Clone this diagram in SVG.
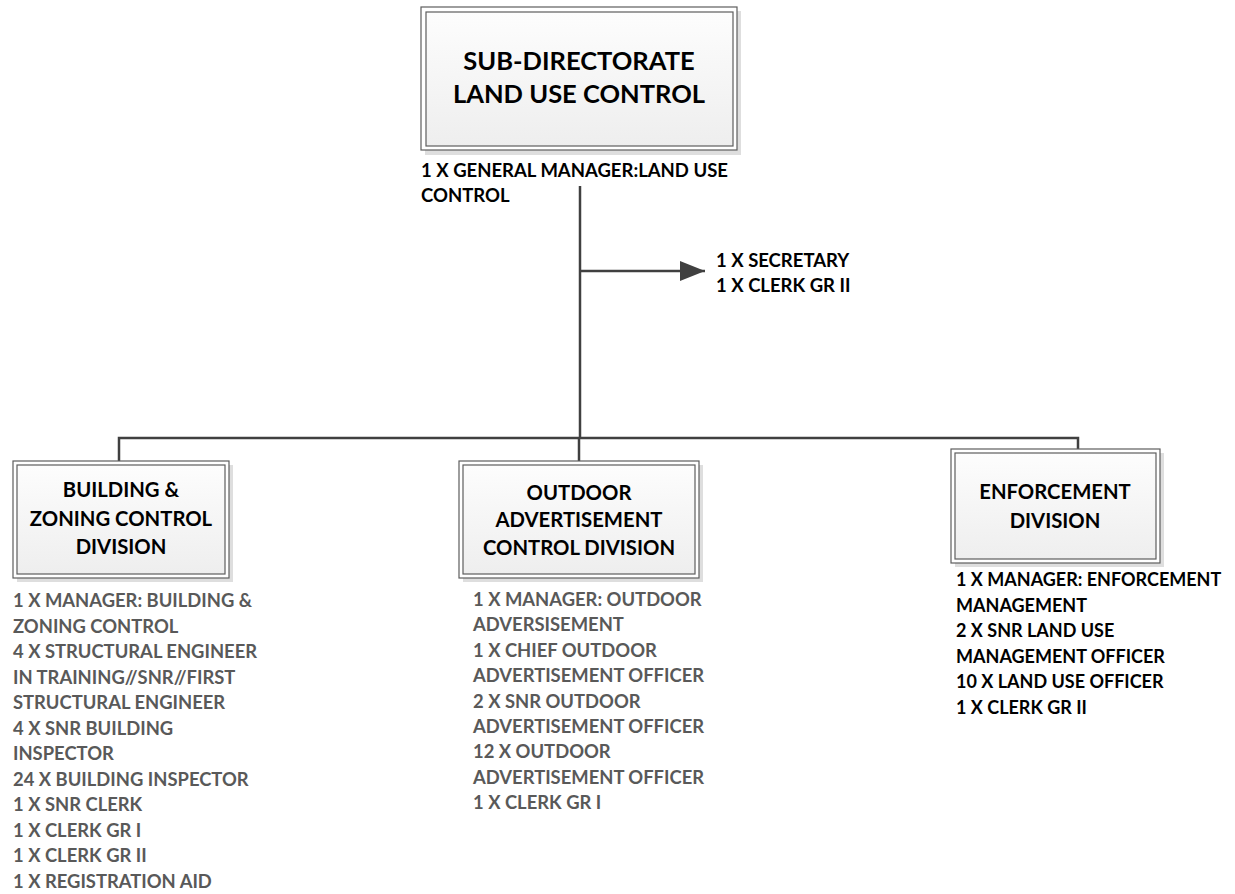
<svg xmlns="http://www.w3.org/2000/svg" width="1235" height="894" viewBox="0 0 1235 894">
<defs>
<linearGradient id="boxfill" x1="0" y1="0" x2="0" y2="1">
<stop offset="0" stop-color="#fdfdfd"/>
<stop offset="1" stop-color="#eeeeee"/>
</linearGradient>
<marker id="arrow" markerWidth="26" markerHeight="20" refX="25" refY="10" orient="auto" markerUnits="userSpaceOnUse">
<path d="M0,0 L25,10 L0,20 Z" fill="#404040"/>
</marker>
</defs>
<style>
text{font-family:Lato,"Open Sans","Liberation Sans",sans-serif;font-weight:bold;}
.shadow{fill:#dedede;}
.outer{fill:#ffffff;stroke:#5e5e5e;stroke-width:1.2;}
.inner{fill:url(#boxfill);stroke:#5e5e5e;stroke-width:1.2;}
.title{font-size:25.5px;fill:#000;text-anchor:middle;}
.head{font-size:20.3px;fill:#000;text-anchor:middle;}
.lbl{font-size:18.5px;fill:#000;}
.lbl2{font-size:18px;fill:#000;}
.gray{font-size:18.4px;fill:#595959;}
.conn{stroke:#404040;stroke-width:2.5;fill:none;}
</style>
<rect width="1235" height="894" fill="#ffffff"/>
<g id="connectors">
<line class="conn" x1="580" y1="186" x2="580" y2="439"/>
<line class="conn" x1="580" y1="271" x2="705" y2="271" marker-end="url(#arrow)"/>
<polyline class="conn" points="119,461 119,438 1078,438 1078,449"/>
<line class="conn" x1="579" y1="438" x2="579" y2="461"/>
</g>
<g id="node-sub-directorate">
<rect class="shadow" x="425" y="11" width="316" height="144"/>
<rect class="outer" x="421" y="7" width="316" height="143"/>
<rect class="inner" x="426" y="12" width="307" height="134"/>
<text class="title" x="579" y="70">SUB-DIRECTORATE</text>
<text class="title" x="579" y="103">LAND USE CONTROL</text>
</g>
<g id="label-general-manager">
<text class="lbl" x="421" y="177">1 X GENERAL MANAGER:LAND USE</text>
<text class="lbl" x="421" y="202">CONTROL</text>
</g>
<g id="label-secretary">
<text class="lbl" x="716" y="267">1 X SECRETARY</text>
<text class="lbl" x="716" y="292">1 X CLERK GR II</text>
</g>
<g id="node-building">
<rect class="shadow" x="17" y="465" width="216" height="117"/>
<rect class="outer" x="13" y="461" width="216" height="117"/>
<rect class="inner" x="17" y="465" width="208" height="109"/>
<text class="head" x="121" y="497">BUILDING &amp;</text>
<text class="head" x="121" y="526">ZONING CONTROL</text>
<text class="head" x="121" y="554">DIVISION</text>
</g>
<g id="list-building">
<text class="gray" x="13" y="607">1 X MANAGER: BUILDING &amp;</text>
<text class="gray" x="13" y="632.5">ZONING CONTROL</text>
<text class="gray" x="13" y="658">4 X STRUCTURAL ENGINEER</text>
<text class="gray" x="13" y="683.5">IN TRAINING//SNR//FIRST</text>
<text class="gray" x="13" y="709">STRUCTURAL ENGINEER</text>
<text class="gray" x="13" y="734.5">4 X SNR BUILDING</text>
<text class="gray" x="13" y="760">INSPECTOR</text>
<text class="gray" x="13" y="785.5">24 X BUILDING INSPECTOR</text>
<text class="gray" x="13" y="811">1 X SNR CLERK</text>
<text class="gray" x="13" y="836.5">1 X CLERK GR I</text>
<text class="gray" x="13" y="862">1 X CLERK GR II</text>
<text class="gray" x="13" y="887.5">1 X REGISTRATION AID</text>
</g>
<g id="node-outdoor">
<rect class="shadow" x="463" y="465" width="240" height="117"/>
<rect class="outer" x="459" y="461" width="240" height="117"/>
<rect class="inner" x="463" y="465" width="232" height="109"/>
<text class="head" x="579" y="500">OUTDOOR</text>
<text class="head" x="579" y="527">ADVERTISEMENT</text>
<text class="head" x="579" y="555">CONTROL DIVISION</text>
</g>
<g id="list-outdoor">
<text class="gray" x="473" y="606">1 X MANAGER: OUTDOOR</text>
<text class="gray" x="473" y="631.4">ADVERSISEMENT</text>
<text class="gray" x="473" y="656.8">1 X CHIEF OUTDOOR</text>
<text class="gray" x="473" y="682.2">ADVERTISEMENT OFFICER</text>
<text class="gray" x="473" y="707.6">2 X SNR OUTDOOR</text>
<text class="gray" x="473" y="733">ADVERTISEMENT OFFICER</text>
<text class="gray" x="473" y="758.4">12 X OUTDOOR</text>
<text class="gray" x="473" y="783.8">ADVERTISEMENT OFFICER</text>
<text class="gray" x="473" y="809.2">1 X CLERK GR I</text>
</g>
<g id="node-enforcement">
<rect class="shadow" x="955" y="453" width="209" height="114"/>
<rect class="outer" x="951" y="449" width="209" height="114"/>
<rect class="inner" x="955" y="453" width="201" height="106"/>
<text class="head" x="1055" y="499">ENFORCEMENT</text>
<text class="head" x="1055" y="528">DIVISION</text>
</g>
<g id="list-enforcement">
<text class="lbl2" x="956" y="586">1 X MANAGER: ENFORCEMENT</text>
<text class="lbl2" x="956" y="611.5">MANAGEMENT</text>
<text class="lbl2" x="956" y="637">2 X SNR LAND USE</text>
<text class="lbl2" x="956" y="662.5">MANAGEMENT OFFICER</text>
<text class="lbl2" x="956" y="688">10 X LAND USE OFFICER</text>
<text class="lbl2" x="956" y="713.5">1 X CLERK GR II</text>
</g>
</svg>
